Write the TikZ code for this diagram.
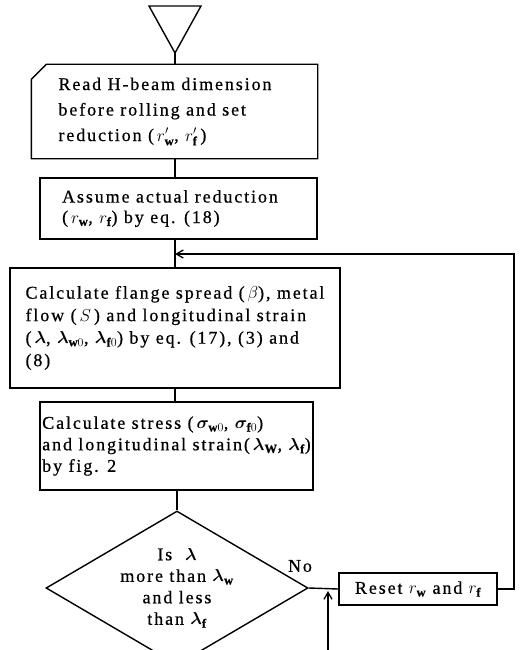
\documentclass[tikz,border=0pt]{standalone}
\usepackage{fontspec}
\setmainfont{Liberation Serif}[LetterSpace=10.5,FakeBold=0.6]
\usepackage{bm}
\usetikzlibrary{arrows.meta,shapes.geometric}
\newcommand{\lam}{\bm{\lambda}}
\newcommand{\sig}{\bm{\sigma}}
\begin{document}
\begin{tikzpicture}[x=1pt,y=-1pt,
  every node/.style={font=\fontsize{18}{21.5}\selectfont},
  ln/.style={line width=1.4pt},
  proc/.style={ln, inner sep=0pt, align=left},
  tip/.style={-{Straight Barb[length=7pt,width=8pt,line width=1.3pt]}}
]
\clip (0,0) rectangle (519,650);
% start triangle
\coordinate (tri) at (175,53);
\draw[ln, line join=miter] (149,6) -- (201,6) -- (tri) -- cycle;
% box 1 (chamfered corner)
\node[proc, minimum width=285pt, minimum height=93pt,
      font=\fontsize{18}{25.5}\selectfont] (b1) at (174.5,111.5)
  {Read H-beam dimension\hspace*{19pt}\\ before rolling and set\\ reduction (\,$r'_{\mathbf{w}}$, $r'_{\mathbf{f}}$\,)};
\draw[ln] (b1.south west) -- ([yshift=-15pt]b1.north west) -- ([xshift=15pt]b1.north west)
  -- (b1.north east) -- (b1.south east) -- cycle;
% box 2
\node[proc, draw, minimum width=277pt, minimum height=61pt, font=\fontsize{18}{20.5}\selectfont] (b2) at (178.5,208.5)
  {Assume actual reduction\hspace*{17pt}\\ (\,$r_{\mathbf{w}}$, $r_{\mathbf{f}}$) by eq. (18)};
% box 3
\node[proc, draw, minimum width=330pt, minimum height=120pt, font=\fontsize{18}{22.5}\selectfont] (b3) at (175,328)
  {Calculate flange spread (\,$\beta$), metal\\ flow (\,$S$\,) and longitudinal strain\\
   (\,$\lam$, $\lam_{\mathbf{w}0}$, $\lam_{\mathbf{f}0}$) by eq. (17), (3) and\\ (8)};
% box 4
\node[proc, draw, minimum width=273pt, minimum height=88pt] (b4) at (176.5,446)
  {Calculate stress (\,$\sig_{\mathbf{w}0}$, $\sig_{\mathbf{f}0}$)\\
   and longitudinal strain(\,$\lam_{\mathbf{W}}$, $\lam_{\mathbf{f}}$)\\ by fig. 2};
% decision
\node[diamond, draw, ln, shape aspect=1.7, minimum width=262pt, minimum height=154pt,
      inner sep=0pt, align=center] (d) at (177,588)
  {Is\ \ $\lam$\\ more than $\lam_{\mathbf{w}}$\\ and less\\ than $\lam_{\mathbf{f}}$};
% reset
\node[proc, draw, minimum width=158pt, minimum height=32pt, align=center] (reset) at (418,589)
  {Reset $r_{\mathbf{w}}$ and $r_{\mathbf{f}}$};
\node (no) at (300,566) {No};
% connectors
\draw[ln] (tri) -- (tri |- b1.north);
\draw[ln] (b1.south -| tri) -- (b2.north -| tri);
\draw[ln] (b2.south -| tri) -- (b3.north -| tri);
\draw[ln] (b3.south -| tri) -- (b4.north -| tri);
\draw[ln] (b4.south -| d.north) -- (d.north);
\draw[ln] (d.east) -- (reset.west);
\coordinate (loopc) at (514,254);
\draw[ln, tip] (reset.east) -| (loopc) -- (loopc -| tri);
\coordinate (inb) at (328,650);
\draw[ln, tip] (inb) -- ([yshift=-3pt]inb |- d.east);
\end{tikzpicture}
\end{document}
